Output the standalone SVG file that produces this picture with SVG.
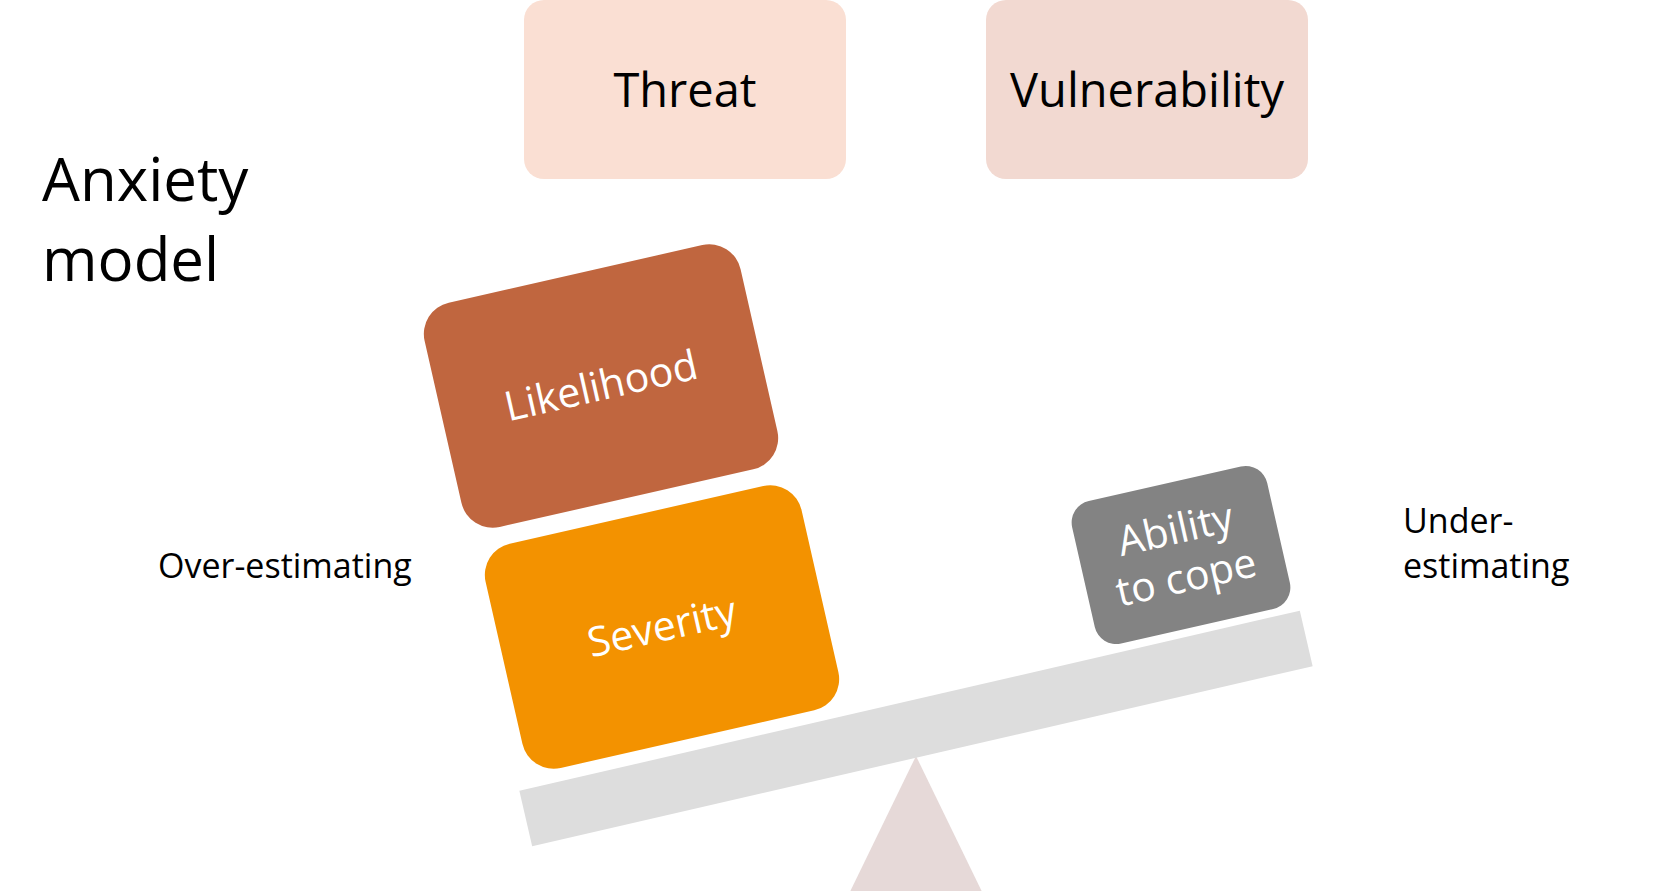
<svg xmlns="http://www.w3.org/2000/svg" width="1674" height="891" viewBox="0 0 1674 891">
<style>
text{font-family:"Open Sans","Noto Sans","Liberation Sans",sans-serif;}
.dark{fill:#000000;}
.white{fill:#ffffff;}
</style>
<rect x="0" y="0" width="1674" height="891" fill="#ffffff"/>
<g id="title"><text class="dark" x="42" y="201" font-size="60">Anxiety</text><text class="dark" x="42" y="281" font-size="60">model</text></g>
<g id="threat"><rect x="524" y="0" width="322" height="179" rx="20" fill="#FADFD3"/><text class="dark" x="685" y="107" font-size="47" text-anchor="middle">Threat</text></g>
<g id="vulnerability"><rect x="986" y="0" width="322" height="179" rx="20" fill="#F2D9D1"/><text class="dark" x="1147" y="107" font-size="47" text-anchor="middle">Vulnerability</text></g>
<g id="over"><text class="dark" x="158" y="578" font-size="34">Over-estimating</text></g>
<g id="under"><text class="dark" x="1403" y="533" font-size="34">Under-</text><text class="dark" x="1403" y="578" font-size="34">estimating</text></g>
<g id="fulcrum"><polygon points="916,756 846,900 986,900" fill="#E6D9D8"/></g>
<g id="plank"><rect x="-400.5" y="-28.5" width="801" height="57" fill="#DDDDDD" transform="translate(916,728.5) rotate(-13)"/></g>
<g id="likelihood" transform="translate(601,386) rotate(-12.8)"><rect x="-162" y="-115" width="324" height="230" rx="32" fill="#C0663F"/><text class="white" x="0" y="14" font-size="41" text-anchor="middle">Likelihood</text></g>
<g id="severity" transform="translate(662,627) rotate(-12.8)"><rect x="-162" y="-115" width="324" height="230" rx="32" fill="#F39200"/><text class="white" x="0" y="14" font-size="41" text-anchor="middle">Severity</text></g>
<g id="ability" transform="translate(1181,555) rotate(-12.8)"><rect x="-100" y="-73" width="200" height="146" rx="22" fill="#838383"/><text class="white" x="0" y="-12" font-size="41" text-anchor="middle">Ability</text><text class="white" x="0" y="37" font-size="41" text-anchor="middle">to cope</text></g>
<g id="connectors"/>
</svg>
